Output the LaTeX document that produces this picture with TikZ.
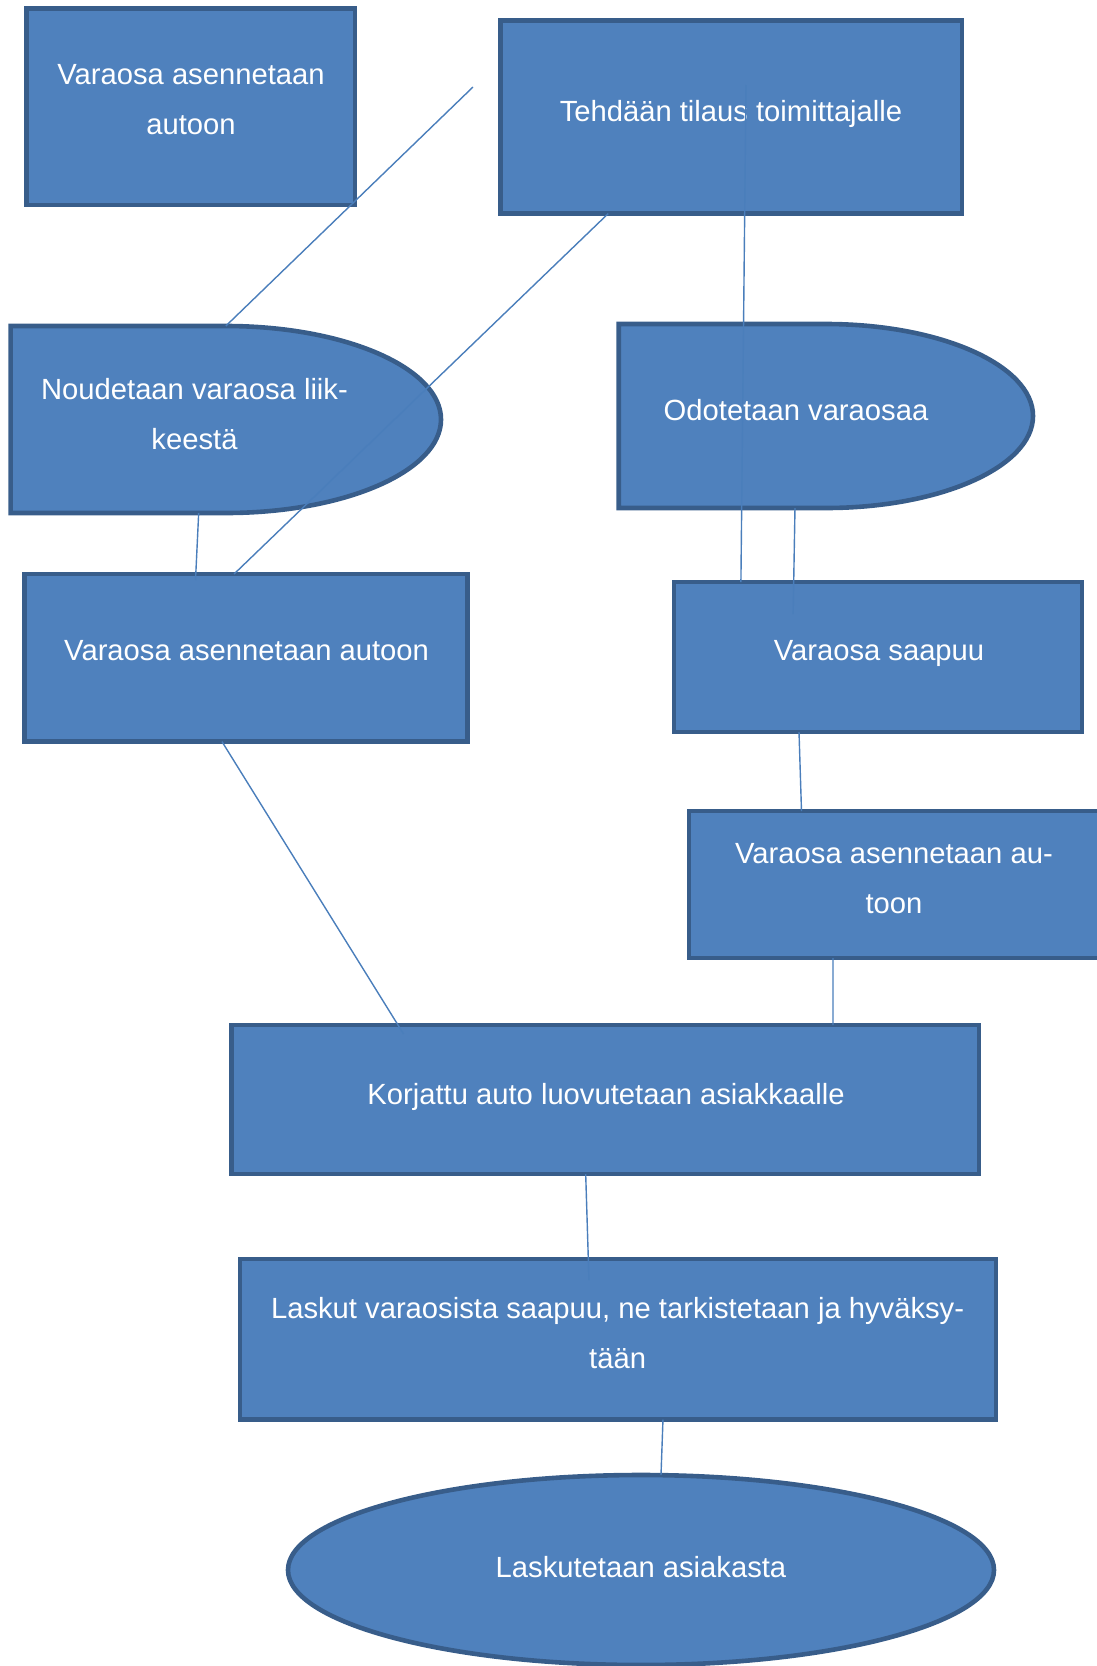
\documentclass[tikz,border=0pt]{standalone}
\usepackage{fontspec}
\setmainfont{Liberation Sans}
\usetikzlibrary{calc,shapes.geometric}
\definecolor{boxfill}{HTML}{4F81BD}
\definecolor{boxline}{HTML}{385D8A}
\definecolor{linkblue}{HTML}{4A7EBB}
\begin{document}
\begin{tikzpicture}[x=0.5pt,y=-0.5pt,
  shapebox/.style={draw=boxline, fill=boxfill, line width=2.3pt, inner sep=0pt, outer sep=0pt},
  ghost/.style={inner sep=0pt, outer sep=0pt, draw=none},
  lbl/.style={text=white, font=\fontsize{14.6pt}{25pt}\selectfont, align=center, anchor=north, inner sep=0pt},
  link/.style={draw=linkblue, line width=0.7pt}]
\useasboundingbox (0,0) rectangle (1097,1666);
\clip (0,0) rectangle (1097,1666);

% shapes
\node[shapebox, minimum width=164.2pt, minimum height=98.25pt] (a) at (190.8,106.75) {};
\node[shapebox, minimum width=230.65pt, minimum height=96.7pt] (b) at (731.35,116.9) {};
\node[ghost, minimum width=215.2pt, minimum height=93.5pt] (c) at (225.8,419.5) {};
\filldraw[shapebox] (c.north west) -- (c.north) arc[start angle=90, end angle=-90, x radius=107.6pt, y radius=46.75pt] -- (c.south west) -- cycle;
\node[ghost, minimum width=207.15pt, minimum height=92pt] (d) at (825.85,416) {};
\filldraw[shapebox] (d.north west) -- (d.north) arc[start angle=90, end angle=-90, x radius=103.575pt, y radius=46pt] -- (d.south west) -- cycle;
\node[shapebox, minimum width=221.65pt, minimum height=83.8pt] (e) at (246.05,657.8) {};
\node[shapebox, minimum width=204pt, minimum height=75pt] (f) at (878,657) {};
\node[shapebox, minimum width=205.5pt, minimum height=73.5pt] (g) at (894.5,884.5) {};
\node[shapebox, minimum width=373.65pt, minimum height=74.5pt] (h) at (605.35,1099.5) {};
\node[shapebox, minimum width=378pt, minimum height=80.25pt] (i) at (618,1339.25) {};
\node[shapebox, ellipse, minimum width=353pt, minimum height=95pt] (j) at (641,1570) {};

% texts
\node[lbl] (at) at (191,64.5) {Varaosa asennetaan\\autoon};
\node[lbl] (bt) at (731,99.5) {Tehdään tilaus toimittajalle};
\node[lbl] (ct) at (194.5,377.5) {Noudetaan varaosa liik-\\keestä};
\node[lbl] (dt) at (796,399) {Odotetaan varaosaa};
\node[lbl] (et) at (246.6,640.5) {Varaosa asennetaan autoon};
\node[lbl] (ft) at (879,640.5) {Varaosa saapuu};
\node[lbl] (gt) at (894,842.5) {Varaosa asennetaan au-\\toon};
\node[lbl] (ht) at (606,1082.5) {Korjattu auto luovutetaan asiakkaalle};
\node[lbl] (it) at (617.6,1297) {Laskut varaosista saapuu, ne tarkistetaan ja hyväksy-\\tään};
\node[lbl] (jt) at (641,1555.5) {Laskutetaan asiakasta};

% connectors
\coordinate (p1) at (473,87);
\coordinate (p3) at (746,85);
\draw[link] (p1) -- (c.north);
\draw[link] ($(b.south west)!0.233!(b.south east)$) -- ($(e.north west)!0.473!(e.north east)$);
\draw[link] (p3) -- ($(f.north west)!0.164!(f.north east)$);
\draw[link] ($(d.south west)!0.4255!(d.south east)$) -- ($(f.north west)!0.292!(f.north east)+(0,32)$);
\draw[link] ($(c.south west)!0.437!(c.south east)$) -- ($(e.north west)!0.386!(e.north east)+(0,6)$);
\draw[link] ($(e.south west)!0.4457!(e.south east)$) -- ($(h.north west)!0.23!(h.north east)+(0,9)$);
\draw[link] ($(f.south west)!0.3064!(f.south east)$) -- ($(g.north west)!0.2737!(g.north east)$);
\draw[link] ($(g.south west)!0.3504!(g.south east)$) -- ($(h.north west)!0.8046!(h.north east)$);
\draw[link] ($(h.south west)!0.4737!(h.south east)$) -- ($(i.north west)!0.4616!(i.north east)+(0,21)$);
\draw[link] ($(i.south west)!0.5595!(i.south east)$) -- ($(j.north)+(20,0)$);
\end{tikzpicture}
\end{document}
